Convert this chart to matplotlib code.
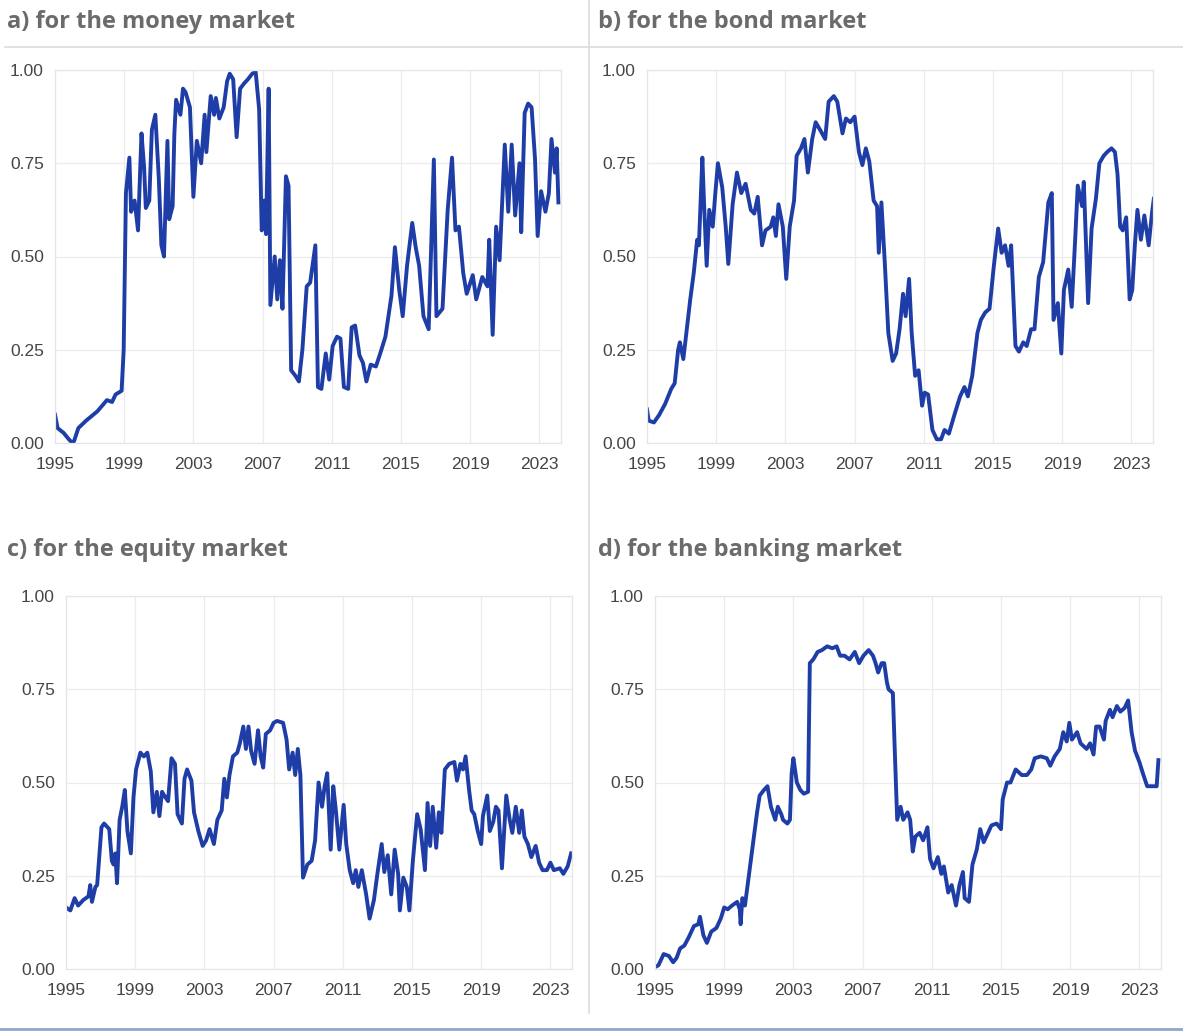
import matplotlib.pyplot as plt
import matplotlib.lines as mlines

# Indicator readings per market, (decimal year, value)
money_years = [1995.0, 1995.15, 1995.5, 1995.8, 1996.0, 1996.1, 1996.35, 1996.8, 1997.45, 1998.0,
               1998.3, 1998.5, 1998.85, 1998.97, 1999.1, 1999.3, 1999.4, 1999.6, 1999.8, 2000.0,
               2000.15, 2000.25, 2000.45, 2000.6, 2000.8, 2001.0, 2001.15, 2001.3, 2001.5, 2001.6,
               2001.8, 2001.9, 2002.0, 2002.25, 2002.4, 2002.55, 2002.8, 2003.0, 2003.2, 2003.45,
               2003.65, 2003.75, 2004.0, 2004.2, 2004.3, 2004.5, 2004.75, 2004.95, 2005.1, 2005.3,
               2005.5, 2005.7, 2005.95, 2006.15, 2006.4, 2006.6, 2006.8, 2006.95, 2007.1, 2007.2,
               2007.35, 2007.45, 2007.7, 2007.85, 2008.0, 2008.15, 2008.35, 2008.5, 2008.65, 2008.9,
               2009.1, 2009.3, 2009.55, 2009.75, 2010.05, 2010.2, 2010.4, 2010.65, 2010.85, 2011.05,
               2011.3, 2011.5, 2011.7, 2011.95, 2012.15, 2012.35, 2012.6, 2012.8, 2013.0, 2013.25,
               2013.55, 2013.8, 2014.1, 2014.45, 2014.65, 2014.9, 2015.1, 2015.35, 2015.65, 2015.85,
               2016.05, 2016.3, 2016.6, 2016.9, 2017.05, 2017.4, 2017.7, 2017.95, 2018.15, 2018.35,
               2018.6, 2018.8, 2019.15, 2019.35, 2019.7, 2020.0, 2020.1, 2020.3, 2020.5, 2020.7,
               2021.0, 2021.2, 2021.4, 2021.6, 2021.85, 2021.95, 2022.15, 2022.35, 2022.55, 2022.75,
               2022.9, 2023.1, 2023.35, 2023.55, 2023.7, 2023.9, 2024.0, 2024.1]
money_values = [0.076, 0.04, 0.027, 0.01, 0.0, 0.005, 0.04, 0.06, 0.085, 0.115,
                0.11, 0.13, 0.14, 0.25, 0.67, 0.765, 0.62, 0.65, 0.57, 0.83,
                0.74, 0.63, 0.65, 0.84, 0.88, 0.71, 0.53, 0.50, 0.81, 0.60,
                0.635, 0.83, 0.92, 0.88, 0.95, 0.94, 0.90, 0.66, 0.81, 0.75,
                0.88, 0.78, 0.93, 0.88, 0.925, 0.87, 0.90, 0.97, 0.99, 0.975,
                0.82, 0.95, 0.965, 0.975, 0.99, 0.995, 0.895, 0.57, 0.65, 0.56,
                0.95, 0.37, 0.50, 0.385, 0.49, 0.36, 0.715, 0.69, 0.195, 0.18,
                0.165, 0.25, 0.42, 0.43, 0.53, 0.15, 0.145, 0.24, 0.17, 0.26,
                0.285, 0.28, 0.15, 0.145, 0.31, 0.315, 0.235, 0.215, 0.165, 0.21,
                0.205, 0.24, 0.285, 0.395, 0.525, 0.41, 0.34, 0.475, 0.59, 0.525,
                0.475, 0.34, 0.305, 0.76, 0.34, 0.36, 0.625, 0.765, 0.57, 0.58,
                0.455, 0.40, 0.45, 0.385, 0.445, 0.42, 0.545, 0.29, 0.58, 0.49,
                0.80, 0.62, 0.80, 0.61, 0.75, 0.565, 0.885, 0.91, 0.90, 0.76,
                0.555, 0.675, 0.62, 0.67, 0.815, 0.725, 0.79, 0.645]

bond_years = [1995.0, 1995.1, 1995.4, 1995.7, 1996.05, 1996.4, 1996.6, 1996.8, 1996.9, 1997.1,
              1997.25, 1997.5, 1997.7, 1997.9, 1998.0, 1998.2, 1998.3, 1998.45, 1998.6, 1998.8,
              1998.95, 1999.1, 1999.35, 1999.55, 1999.7, 1999.95, 2000.2, 2000.45, 2000.7, 2001.0,
              2001.2, 2001.4, 2001.65, 2001.85, 2002.15, 2002.3, 2002.45, 2002.6, 2002.85, 2003.05,
              2003.25, 2003.5, 2003.65, 2003.9, 2004.1, 2004.3, 2004.55, 2004.75, 2005.0, 2005.3,
              2005.5, 2005.8, 2006.0, 2006.3, 2006.5, 2006.75, 2007.0, 2007.25, 2007.45, 2007.65,
              2007.85, 2008.1, 2008.3, 2008.4, 2008.55, 2008.75, 2008.95, 2009.2, 2009.4, 2009.6,
              2009.8, 2009.95, 2010.15, 2010.3, 2010.5, 2010.7, 2010.9, 2011.05, 2011.25, 2011.5,
              2011.75, 2012.0, 2012.2, 2012.45, 2012.8, 2013.1, 2013.35, 2013.55, 2013.8, 2014.1,
              2014.3, 2014.55, 2014.8, 2015.05, 2015.3, 2015.5, 2015.7, 2015.9, 2016.05, 2016.3,
              2016.5, 2016.75, 2016.95, 2017.2, 2017.4, 2017.65, 2017.9, 2018.2, 2018.4, 2018.5,
              2018.75, 2018.95, 2019.1, 2019.35, 2019.55, 2019.75, 2019.9, 2020.15, 2020.25, 2020.5,
              2020.7, 2020.95, 2021.15, 2021.4, 2021.6, 2021.85, 2022.05, 2022.2, 2022.35, 2022.5,
              2022.7, 2022.9, 2023.05, 2023.2, 2023.35, 2023.55, 2023.75, 2024.0, 2024.2, 2024.3]
bond_values = [0.09, 0.06, 0.055, 0.075, 0.105, 0.145, 0.16, 0.25, 0.27, 0.225,
               0.285, 0.385, 0.455, 0.545, 0.53, 0.765, 0.64, 0.475, 0.625, 0.58,
               0.67, 0.75, 0.685, 0.58, 0.48, 0.64, 0.725, 0.67, 0.695, 0.625,
               0.615, 0.66, 0.53, 0.57, 0.58, 0.605, 0.555, 0.64, 0.58, 0.44,
               0.58, 0.65, 0.77, 0.79, 0.815, 0.725, 0.815, 0.86, 0.84, 0.815,
               0.915, 0.93, 0.915, 0.83, 0.87, 0.86, 0.875, 0.78, 0.745, 0.79,
               0.755, 0.65, 0.635, 0.51, 0.645, 0.48, 0.295, 0.22, 0.24, 0.305,
               0.40, 0.34, 0.44, 0.295, 0.18, 0.195, 0.10, 0.135, 0.13, 0.035,
               0.01, 0.01, 0.035, 0.025, 0.08, 0.125, 0.15, 0.125, 0.18, 0.295,
               0.33, 0.35, 0.36, 0.475, 0.575, 0.51, 0.53, 0.475, 0.53, 0.26,
               0.245, 0.27, 0.26, 0.305, 0.305, 0.445, 0.485, 0.645, 0.67, 0.33,
               0.375, 0.24, 0.41, 0.465, 0.365, 0.545, 0.69, 0.635, 0.70, 0.375,
               0.575, 0.655, 0.75, 0.77, 0.78, 0.79, 0.78, 0.72, 0.58, 0.57,
               0.605, 0.385, 0.41, 0.53, 0.625, 0.545, 0.61, 0.53, 0.62, 0.655]

equity_years = [1995.0, 1995.25, 1995.5, 1995.7, 1996.0, 1996.3, 1996.4, 1996.5, 1996.7, 1996.8,
                1997.05, 1997.2, 1997.5, 1997.65, 1997.75, 1997.85, 1997.95, 1998.1, 1998.25, 1998.4,
                1998.55, 1998.75, 1998.9, 1999.05, 1999.3, 1999.5, 1999.7, 1999.9, 2000.05, 2000.25,
                2000.4, 2000.55, 2000.75, 2000.9, 2001.1, 2001.3, 2001.45, 2001.7, 2001.85, 2002.0,
                2002.25, 2002.4, 2002.65, 2002.9, 2003.1, 2003.3, 2003.55, 2003.75, 2004.0, 2004.15,
                2004.3, 2004.45, 2004.65, 2004.9, 2005.05, 2005.25, 2005.4, 2005.55, 2005.7, 2005.9,
                2006.1, 2006.25, 2006.4, 2006.55, 2006.8, 2007.0, 2007.2, 2007.55, 2007.75, 2007.9,
                2008.1, 2008.25, 2008.4, 2008.55, 2008.7, 2008.95, 2009.2, 2009.4, 2009.6, 2009.8,
                2009.95, 2010.1, 2010.3, 2010.45, 2010.6, 2010.8, 2011.05, 2011.2, 2011.4, 2011.6,
                2011.75, 2011.9, 2012.1, 2012.35, 2012.55, 2012.8, 2013.0, 2013.25, 2013.4, 2013.6,
                2013.8, 2014.0, 2014.2, 2014.3, 2014.5, 2014.7, 2014.85, 2015.05, 2015.3, 2015.5,
                2015.75, 2015.9, 2016.05, 2016.2, 2016.4, 2016.55, 2016.7, 2016.9, 2017.15, 2017.45,
                2017.6, 2017.8, 2017.95, 2018.1, 2018.3, 2018.45, 2018.6, 2018.8, 2019.0, 2019.1,
                2019.35, 2019.5, 2019.7, 2019.85, 2020.0, 2020.2, 2020.45, 2020.65, 2020.8, 2021.0,
                2021.2, 2021.35, 2021.5, 2021.7, 2021.9, 2022.15, 2022.35, 2022.55, 2022.8, 2023.0,
                2023.2, 2023.55, 2023.75, 2024.0, 2024.2]
equity_values = [0.165, 0.157, 0.19, 0.17, 0.185, 0.195, 0.225, 0.18, 0.22, 0.225,
                 0.38, 0.39, 0.375, 0.29, 0.28, 0.31, 0.23, 0.40, 0.435, 0.48,
                 0.37, 0.31, 0.46, 0.535, 0.58, 0.57, 0.58, 0.53, 0.42, 0.475,
                 0.41, 0.475, 0.46, 0.45, 0.565, 0.55, 0.415, 0.39, 0.51, 0.535,
                 0.505, 0.42, 0.37, 0.33, 0.345, 0.375, 0.335, 0.40, 0.425, 0.51,
                 0.46, 0.52, 0.57, 0.58, 0.605, 0.65, 0.59, 0.65, 0.585, 0.55,
                 0.64, 0.57, 0.54, 0.63, 0.64, 0.66, 0.665, 0.66, 0.615, 0.535,
                 0.58, 0.52, 0.59, 0.52, 0.245, 0.28, 0.29, 0.345, 0.50, 0.435,
                 0.49, 0.525, 0.32, 0.49, 0.425, 0.32, 0.44, 0.335, 0.265, 0.23,
                 0.265, 0.22, 0.265, 0.20, 0.135, 0.185, 0.255, 0.335, 0.26, 0.305,
                 0.20, 0.32, 0.255, 0.157, 0.245, 0.22, 0.157, 0.29, 0.415, 0.375,
                 0.265, 0.445, 0.33, 0.435, 0.325, 0.42, 0.365, 0.535, 0.55, 0.555,
                 0.505, 0.55, 0.535, 0.57, 0.48, 0.425, 0.415, 0.37, 0.335, 0.41,
                 0.465, 0.37, 0.395, 0.435, 0.425, 0.27, 0.465, 0.40, 0.365, 0.435,
                 0.365, 0.425, 0.355, 0.335, 0.30, 0.33, 0.285, 0.265, 0.265, 0.285,
                 0.265, 0.27, 0.255, 0.275, 0.31]

banking_years = [1995.0, 1995.2, 1995.5, 1995.8, 1996.05, 1996.25, 1996.45, 1996.7, 1996.95, 1997.25,
                 1997.5, 1997.6, 1997.8, 1998.0, 1998.25, 1998.55, 1998.8, 1999.0, 1999.2, 1999.45,
                 1999.75, 1999.9, 1999.95, 2000.05, 2000.2, 2000.45, 2000.65, 2000.9, 2001.05, 2001.3,
                 2001.5, 2001.7, 2001.95, 2002.1, 2002.3, 2002.4, 2002.65, 2002.8, 2002.9, 2003.0,
                 2003.2, 2003.4, 2003.6, 2003.85, 2003.95, 2004.15, 2004.4, 2004.65, 2004.95, 2005.25,
                 2005.5, 2005.7, 2005.95, 2006.25, 2006.55, 2006.8, 2007.05, 2007.35, 2007.6, 2007.75,
                 2007.9, 2008.1, 2008.25, 2008.4, 2008.5, 2008.75, 2008.85, 2009.0, 2009.2, 2009.35,
                 2009.6, 2009.75, 2009.9, 2010.05, 2010.3, 2010.5, 2010.75, 2010.9, 2011.1, 2011.35,
                 2011.55, 2011.7, 2011.95, 2012.15, 2012.4, 2012.6, 2012.8, 2012.9, 2013.15, 2013.35,
                 2013.6, 2013.8, 2014.0, 2014.25, 2014.45, 2014.75, 2015.0, 2015.1, 2015.35, 2015.55,
                 2015.85, 2016.2, 2016.5, 2016.75, 2016.95, 2017.3, 2017.65, 2017.85, 2018.1, 2018.4,
                 2018.6, 2018.8, 2018.95, 2019.1, 2019.4, 2019.6, 2019.95, 2020.15, 2020.35, 2020.5,
                 2020.7, 2020.95, 2021.05, 2021.3, 2021.45, 2021.7, 2021.9, 2022.15, 2022.35, 2022.55,
                 2022.75, 2023.0, 2023.2, 2023.45, 2023.75, 2024.0, 2024.1]
banking_values = [0.005, 0.01, 0.04, 0.035, 0.018, 0.03, 0.055, 0.063, 0.085, 0.115,
                  0.12, 0.14, 0.09, 0.07, 0.10, 0.11, 0.135, 0.165, 0.16, 0.17,
                  0.18, 0.16, 0.12, 0.19, 0.17, 0.26, 0.33, 0.42, 0.465, 0.48,
                  0.49, 0.435, 0.40, 0.435, 0.415, 0.40, 0.39, 0.40, 0.525, 0.565,
                  0.50, 0.48, 0.47, 0.475, 0.82, 0.83, 0.85, 0.855, 0.865, 0.86,
                  0.865, 0.84, 0.84, 0.83, 0.85, 0.82, 0.84, 0.855, 0.84, 0.82,
                  0.795, 0.82, 0.82, 0.77, 0.75, 0.74, 0.60, 0.40, 0.435, 0.40,
                  0.42, 0.40, 0.315, 0.355, 0.365, 0.345, 0.38, 0.295, 0.27, 0.30,
                  0.255, 0.275, 0.205, 0.225, 0.17, 0.225, 0.26, 0.19, 0.18, 0.28,
                  0.32, 0.375, 0.34, 0.365, 0.385, 0.39, 0.375, 0.455, 0.50, 0.50,
                  0.535, 0.52, 0.52, 0.535, 0.565, 0.57, 0.565, 0.545, 0.57, 0.59,
                  0.635, 0.61, 0.66, 0.615, 0.635, 0.605, 0.59, 0.605, 0.575, 0.65,
                  0.65, 0.615, 0.665, 0.695, 0.675, 0.705, 0.69, 0.70, 0.72, 0.635,
                  0.585, 0.555, 0.525, 0.49, 0.49, 0.49, 0.56]

titles = ["a) for the money market", "b) for the bond market",
          "c) for the equity market", "d) for the banking market"]
year_ticks = [1995, 1999, 2003, 2007, 2011, 2015, 2019, 2023]
value_ticks = [0.0, 0.25, 0.5, 0.75, 1.0]

W, H = 1183, 1032
LINE_BLUE = "#1f3da6"

fig = plt.figure(figsize=(W / 100, H / 100), dpi=100)


def px_axes(left, top, right, bottom):
    return fig.add_axes([left / W, 1 - bottom / H, (right - left) / W, (bottom - top) / H])


# (left, top, right, bottom) in pixels, title anchor
panels = [
    ((55, 70, 561, 443), (7, 22)),
    ((647, 70, 1153, 443), (598, 22)),
    ((66, 596, 572, 969), (7, 550)),
    ((655, 596, 1161, 969), (598, 550)),
]
series = [(money_years, money_values), (bond_years, bond_values),
          (equity_years, equity_values), (banking_years, banking_values)]

for (box, (tx, ty)), (xs, ys), title in zip(panels, series, titles):
    ax = px_axes(*box)
    ax.plot(xs, ys, color=LINE_BLUE, lw=2.8, solid_joinstyle="round")
    ax.set_xlim(1995, 2024.25)
    ax.set_ylim(0, 1)
    ax.set_xticks(year_ticks)
    ax.set_yticks(value_ticks)
    ax.set_yticklabels([f"{v:.2f}" for v in value_ticks])
    ax.grid(True, color="#ececec", lw=0.9)
    ax.set_axisbelow(True)
    for s in ax.spines.values():
        s.set_color("#e6e6e6")
        s.set_linewidth(0.9)
    ax.tick_params(length=0, labelsize=12.5, labelcolor="#454545")
    ax.tick_params(axis="x", pad=10)
    ax.tick_params(axis="y", pad=8)
    for lab in ax.get_xticklabels() + ax.get_yticklabels():
        lab.set_fontfamily("Liberation Sans")
    fig.text(tx / W, 1 - ty / H, title, fontsize=17, fontweight="bold",
             color="#6b6b6b", family="Open Sans", va="center", ha="left")

# panel separators
fig.add_artist(mlines.Line2D([5 / W, 1], [1 - 47 / H, 1 - 47 / H], color="#dcdcdc", lw=1.2))
fig.add_artist(mlines.Line2D([589 / W, 589 / W], [1, 1 - 1013 / H], color="#dcdcdc", lw=1.2))
fig.add_artist(mlines.Line2D([0, 1], [1 - 1029 / H, 1 - 1029 / H], color="#8fa6cf", lw=2))

fig.savefig("out.png", dpi=100, facecolor="white")
